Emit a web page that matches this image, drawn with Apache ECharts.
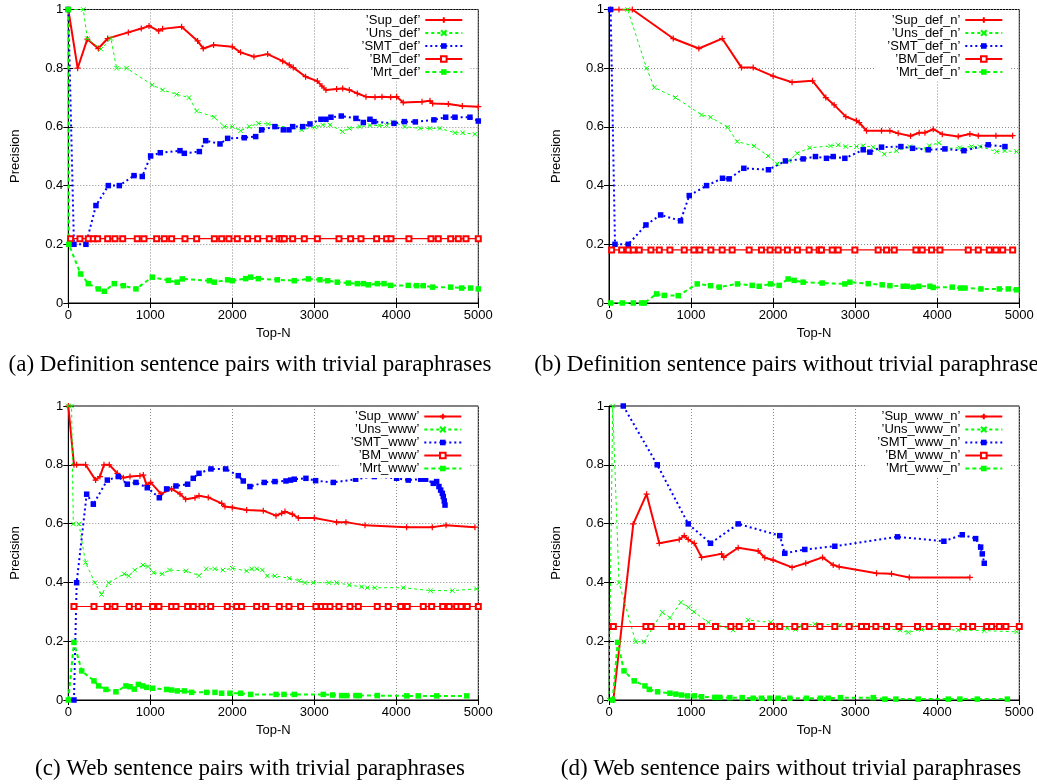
<!DOCTYPE html>
<html>
<head>
<meta charset="utf-8">
<script src="https://cdn.jsdelivr.net/npm/echarts@6/dist/echarts.min.js"></script>
<style>
html,body{margin:0;padding:0;background:#fff;}
#chart{width:1037px;height:784px;}
</style>
</head>
<body>
<div id="chart"></div>
<script>
// ---------- tick labels / captions ----------
const xTicks = [0, 1000, 2000, 3000, 4000, 5000];
const yTicks = [0, 0.2, 0.4, 0.6, 0.8, 1];
const xName = 'Top-N';
const yName = 'Precision';
const captions = [
  '(a) Definition sentence pairs with trivial paraphrases',
  '(b) Definition sentence pairs without trivial paraphrases',
  '(c) Web sentence pairs with trivial paraphrases',
  '(d) Web sentence pairs without trivial paraphrases'
];
const namesA = ['’Sup_def’', '’Uns_def’', '’SMT_def’', '’BM_def’', '’Mrt_def’'];
const namesB = ['’Sup_def_n’', '’Uns_def_n’', '’SMT_def_n’', '’BM_def_n’', '’Mrt_def_n’'];
const namesC = ['’Sup_www’', '’Uns_www’', '’SMT_www’', '’BM_www’', '’Mrt_www’'];
const namesD = ['’Sup_www_n’', '’Uns_www_n’', '’SMT_www_n’', '’BM_www_n’', '’Mrt_www_n’'];

// ---------- (a) definition, with trivial ----------
const supDef = [[0,1.0],[114,0.8],[232,0.899],[366,0.867],[480,0.901],[732,0.922],[890,0.935],[984,0.944],[1102,0.927],[1150,0.934],[1382,0.941],[1577,0.893],[1646,0.867],[1772,0.879],[2000,0.873],[2101,0.854],[2264,0.839],[2431,0.848],[2614,0.824],[2695,0.811],[2744,0.802],[2894,0.771],[3037,0.756],[3093,0.739],[3142,0.726],[3272,0.729],[3346,0.731],[3427,0.726],[3524,0.714],[3630,0.703],[3740,0.701],[3825,0.703],[3931,0.701],[4004,0.703],[4085,0.683],[4313,0.686],[4411,0.689],[4443,0.680],[4634,0.678],[4805,0.671],[5000,0.669]];
const unsDef = [[0,1.0],[183,1.0],[232,0.901],[398,0.865],[520,0.901],[589,0.8],[711,0.8],[1024,0.743],[1150,0.726],[1321,0.711],[1472,0.7],[1565,0.654],[1780,0.633],[1902,0.601],[2000,0.601],[2101,0.587],[2207,0.601],[2317,0.612],[2439,0.610],[2846,0.590],[3008,0.599],[3102,0.607],[3191,0.607],[3346,0.584],[3427,0.595],[3557,0.601],[3679,0.605],[3793,0.605],[3882,0.605],[3955,0.617],[4106,0.601],[4289,0.595],[4411,0.595],[4533,0.595],[4715,0.580],[4809,0.580],[4959,0.575]];
const smtDef = [[0,1.0],[69,0.2],[215,0.2],[337,0.332],[488,0.4],[622,0.4],[801,0.434],[902,0.431],[1004,0.501],[1122,0.512],[1362,0.519],[1415,0.510],[1598,0.516],[1675,0.553],[1850,0.542],[1943,0.561],[2146,0.563],[2285,0.567],[2358,0.590],[2520,0.601],[2622,0.590],[2691,0.590],[2736,0.601],[2858,0.601],[2947,0.610],[3081,0.626],[3142,0.626],[3203,0.633],[3329,0.637],[3508,0.629],[3598,0.615],[3679,0.626],[3728,0.618],[3972,0.612],[4098,0.618],[4232,0.617],[4459,0.624],[4602,0.633],[4715,0.633],[4898,0.633],[5000,0.620]];
const bmDefX = [28,142,244,305,358,480,569,663,841,923,1077,1171,1260,1423,1565,1781,1870,1959,2061,2187,2309,2451,2569,2602,2634,2736,2878,3037,3301,3443,3569,3760,3882,3935,4154,4423,4512,4663,4756,4850,5000];
const bmDefY = 0.219;
const mrtDef = [[0,1.0],[6,0.2],[150,0.099],[244,0.066],[366,0.048],[439,0.040],[561,0.066],[671,0.059],[825,0.048],[1024,0.088],[1220,0.077],[1329,0.071],[1390,0.082],[1720,0.076],[1780,0.071],[1943,0.079],[2000,0.076],[2163,0.083],[2224,0.088],[2317,0.083],[2549,0.079],[2756,0.076],[2927,0.082],[3069,0.079],[3163,0.076],[3280,0.071],[3415,0.068],[3524,0.066],[3598,0.066],[3659,0.062],[3769,0.066],[3850,0.066],[3931,0.060],[4146,0.060],[4248,0.059],[4329,0.059],[4443,0.054],[4663,0.054],[4797,0.051],[4906,0.051],[5000,0.048]];

// ---------- (b) definition, without trivial ----------
const supDefN = [[20,1.0],[122,1.0],[284,1.0],[783,0.901],[1095,0.867],[1379,0.901],[1615,0.802],[1757,0.802],[2000,0.773],[2231,0.752],[2480,0.757],[2642,0.700],[2744,0.675],[2886,0.635],[3016,0.621],[3049,0.615],[3138,0.587],[3321,0.587],[3423,0.587],[3524,0.578],[3675,0.569],[3780,0.580],[3850,0.580],[3951,0.592],[4061,0.575],[4256,0.567],[4398,0.576],[4500,0.570],[4715,0.570],[4919,0.570]];
const unsDefN = [[20,1.0],[227,1.0],[458,0.8],[552,0.734],[811,0.700],[1128,0.641],[1237,0.633],[1444,0.599],[1562,0.550],[1769,0.535],[1939,0.501],[2049,0.474],[2191,0.485],[2293,0.510],[2447,0.529],[2699,0.535],[2793,0.539],[2886,0.533],[3016,0.533],[3098,0.536],[3220,0.531],[3354,0.507],[3504,0.519],[3667,0.533],[3870,0.524],[3902,0.536],[4020,0.546],[4106,0.527],[4276,0.529],[4419,0.533],[4520,0.533],[4724,0.516],[4825,0.519],[4967,0.516]];
const smtDefN = [[20,1.0],[73,0.2],[235,0.2],[450,0.266],[629,0.300],[872,0.280],[978,0.366],[1189,0.400],[1383,0.425],[1464,0.423],[1643,0.459],[1943,0.454],[2150,0.484],[2366,0.491],[2516,0.499],[2650,0.493],[2732,0.499],[2874,0.493],[3098,0.522],[3179,0.514],[3321,0.531],[3557,0.533],[3699,0.527],[3890,0.522],[4093,0.525],[4325,0.519],[4622,0.539],[4825,0.533]];
const bmDefNX = [32,154,235,296,369,511,613,742,917,1034,1107,1241,1379,1501,1708,1858,1963,2061,2174,2296,2439,2561,2589,2720,2793,2996,3280,3382,3476,3740,3817,3931,4033,4378,4500,4634,4715,4797,4919];
const bmDefNY = 0.181;
const mrtDefN = [[20,0],[162,0],[296,0],[398,0],[430,0],[580,0.031],[673,0.026],[844,0.025],[1075,0.065],[1237,0.059],[1343,0.054],[1566,0.065],[1745,0.060],[1830,0.057],[1968,0.065],[2073,0.060],[2183,0.082],[2256,0.077],[2366,0.071],[2598,0.068],[2874,0.065],[2935,0.071],[3159,0.066],[3329,0.062],[3423,0.059],[3585,0.057],[3634,0.057],[3707,0.054],[3776,0.057],[3911,0.057],[3951,0.053],[4183,0.054],[4285,0.051],[4338,0.051],[4533,0.048],[4756,0.048],[4866,0.048],[4967,0.045]];

// ---------- (c) web, with trivial ----------
const supWww = [[0,1.0],[69,0.8],[102,0.8],[211,0.8],[333,0.748],[386,0.760],[435,0.8],[500,0.8],[598,0.771],[671,0.756],[752,0.760],[874,0.763],[915,0.765],[955,0.731],[1004,0.740],[1130,0.701],[1260,0.718],[1362,0.701],[1431,0.683],[1545,0.688],[1594,0.695],[1707,0.689],[1870,0.669],[1911,0.658],[2000,0.655],[2175,0.646],[2378,0.644],[2533,0.627],[2602,0.635],[2642,0.641],[2732,0.632],[2805,0.619],[3000,0.619],[3272,0.605],[3386,0.605],[3618,0.594],[4126,0.588],[4439,0.588],[4606,0.594],[4959,0.588]];
const unsWww = [[0,1.0],[40,1.0],[61,0.599],[130,0.599],[211,0.467],[324,0.399],[405,0.359],[494,0.399],[681,0.429],[737,0.422],[810,0.442],[911,0.459],[972,0.454],[1040,0.433],[1146,0.429],[1235,0.442],[1437,0.439],[1594,0.423],[1683,0.446],[1785,0.446],[1886,0.442],[2000,0.448],[2175,0.439],[2236,0.446],[2297,0.446],[2366,0.442],[2427,0.422],[2520,0.422],[2695,0.414],[2817,0.406],[2886,0.399],[2988,0.399],[3179,0.399],[3272,0.399],[3427,0.391],[3577,0.385],[3646,0.382],[3740,0.382],[4085,0.382],[4419,0.372],[4683,0.372],[4980,0.378]];
const smtWww = [[69,0],[102,0.399],[224,0.700],[305,0.666],[476,0.748],[610,0.760],[720,0.734],[825,0.740],[963,0.722],[1110,0.688],[1199,0.718],[1313,0.728],[1455,0.734],[1524,0.754],[1594,0.771],[1740,0.786],[1919,0.786],[2073,0.763],[2134,0.745],[2215,0.726],[2390,0.740],[2520,0.743],[2654,0.745],[2711,0.748],[2756,0.751],[2898,0.754],[3016,0.746],[3232,0.740],[3504,0.751],[3732,0.760],[4004,0.754],[4146,0.748],[4297,0.751],[4358,0.751],[4451,0.737],[4492,0.743],[4520,0.726],[4541,0.714],[4561,0.703],[4573,0.692],[4585,0.677],[4594,0.663]];
const bmWwwX = [69,313,476,569,744,854,1028,1105,1260,1313,1455,1524,1630,1736,1939,2053,2114,2297,2407,2573,2691,2833,3020,3089,3138,3191,3301,3435,3537,3768,3902,4053,4134,4329,4431,4565,4646,4736,4789,4866,5000];
const bmWwwY = 0.318;
const mrtWww = [[0,0],[69,0.196],[163,0.099],[313,0.065],[370,0.048],[459,0.036],[581,0.028],[703,0.048],[752,0.045],[805,0.037],[854,0.053],[907,0.048],[955,0.043],[1028,0.040],[1199,0.036],[1260,0.034],[1329,0.031],[1415,0.031],[1504,0.026],[1687,0.026],[1789,0.026],[1870,0.023],[1972,0.023],[2102,0.023],[2224,0.019],[2533,0.019],[2630,0.019],[2756,0.019],[3110,0.019],[3224,0.017],[3333,0.015],[3394,0.015],[3508,0.015],[3549,0.015],[3768,0.015],[4126,0.014],[4268,0.014],[4492,0.014],[4858,0.014]];

// ---------- (d) web, without trivial ----------
const supWwwN = [[53,0],[296,0.599],[458,0.700],[613,0.533],[856,0.546],[917,0.559],[966,0.546],[1039,0.533],[1128,0.485],[1371,0.497],[1399,0.485],[1574,0.518],[1818,0.507],[1899,0.484],[2000,0.476],[2231,0.451],[2398,0.465],[2602,0.485],[2732,0.459],[2805,0.453],[3260,0.431],[3443,0.429],[3659,0.417],[4398,0.417]];
const unsWwwN = [[0,0],[45,1.0],[122,0.399],[325,0.198],[426,0.198],[649,0.298],[742,0.280],[876,0.332],[966,0.315],[1035,0.300],[1209,0.264],[1331,0.255],[1513,0.238],[1696,0.272],[1972,0.264],[2171,0.244],[2272,0.240],[2345,0.252],[2508,0.258],[2813,0.255],[2955,0.255],[3545,0.238],[3646,0.230],[3809,0.240],[4256,0.238],[4573,0.236],[4967,0.232]];
const smtWwwN = [[174,1.0],[588,0.8],[966,0.599],[1237,0.533],[1574,0.599],[2081,0.559],[2142,0.499],[2386,0.512],[2752,0.523],[3516,0.555],[4081,0.540],[4305,0.562],[4468,0.549],[4529,0.520],[4549,0.497],[4573,0.465]];
const bmWwwNX = [53,450,511,763,884,1128,1298,1485,1586,1736,1980,2081,2264,2386,2569,2752,2927,3077,3138,3252,3382,3533,3760,3902,4053,4122,4317,4431,4602,4663,4756,4837,5000];
const bmWwwNY = 0.25;
const mrtWwwN = [[45,0],[105,0.196],[183,0.099],[308,0.065],[438,0.048],[491,0.036],[592,0.028],[742,0.023],[815,0.020],[884,0.017],[957,0.014],[1039,0.014],[1128,0.011],[1290,0.009],[1351,0.009],[1473,0.008],[1623,0.008],[1757,0.006],[1858,0.006],[1960,0.006],[2061,0.006],[2203,0.006],[2407,0.006],[2577,0.006],[2671,0.006],[2821,0.008],[3220,0.008],[3362,0.003],[3496,0.003],[3768,0.003],[4134,0.003],[4276,0.003],[4488,0.003],[4854,0.003]];

// ---------- build ----------
const FONT = '"Liberation Sans", Arial, Helvetica, sans-serif';
const SERIF = '"Liberation Serif", "Times New Roman", serif';
const RED = '#ff0000', GREEN = '#00ff00', BLUE = '#0000ff';

const grids = [
  {left: 68.3, top: 9.5, width: 410, height: 293.5},
  {left: 609, top: 9.5, width: 410.3, height: 293.5},
  {left: 68.3, top: 406, width: 410, height: 294},
  {left: 609, top: 406, width: 410.3, height: 294}
];
const legendPos = [
  {right: 566.7, top: 10.5},
  {right: 26.7, top: 10.5},
  {right: 567.7, top: 407},
  {right: 26.7, top: 407}
];
const captionPos = [
  {x: 250, y: 364.5},
  {x: 791, y: 364.5},
  {x: 250, y: 768.7},
  {x: 791, y: 768.7}
];

const plots = [
  {names: namesA, sup: supDef, uns: unsDef, smt: smtDef, bmX: bmDefX, bmY: bmDefY, mrt: mrtDef},
  {names: namesB, sup: supDefN, uns: unsDefN, smt: smtDefN, bmX: bmDefNX, bmY: bmDefNY, mrt: mrtDefN},
  {names: namesC, sup: supWww, uns: unsWww, smt: smtWww, bmX: bmWwwX, bmY: bmWwwY, mrt: mrtWww},
  {names: namesD, sup: supWwwN, uns: unsWwwN, smt: smtWwwN, bmX: bmWwwNX, bmY: bmWwwNY, mrt: mrtWwwN}
];

const styles = {
  sup: {color: RED, lineStyle: {color: RED, width: 2, type: 'solid'},
        symbol: 'path://M0,5L10,5M5,0L5,10', symbolSize: 6,
        itemStyle: {color: RED, borderColor: RED, borderWidth: 1.2}},
  uns: {color: GREEN, lineStyle: {color: GREEN, width: 1, type: [3, 3]},
        symbol: 'path://M0,0L10,10M10,0L0,10', symbolSize: 4.5,
        itemStyle: {color: GREEN, borderColor: GREEN, borderWidth: 1}},
  smt: {color: BLUE, lineStyle: {color: BLUE, width: 2, type: [2, 3]},
        symbol: 'rect', symbolSize: 5.5,
        itemStyle: {color: BLUE, borderWidth: 0}},
  bm:  {color: RED, lineStyle: {color: RED, width: 1.2, type: 'solid'},
        symbol: 'emptyRect', symbolSize: 5,
        itemStyle: {color: RED, borderColor: RED, borderWidth: 1}},
  mrt: {color: GREEN, lineStyle: {color: GREEN, width: 2, type: [4, 3]},
        symbol: 'rect', symbolSize: 5.5,
        itemStyle: {color: GREEN, borderWidth: 0}}
};

function mkSeries(name, data, kind, gi) {
  const s = styles[kind];
  return {
    type: 'line', name: name, data: data,
    xAxisIndex: gi, yAxisIndex: gi,
    color: s.color, lineStyle: s.lineStyle,
    symbol: s.symbol, symbolSize: s.symbolSize, itemStyle: s.itemStyle,
    showSymbol: true, showAllSymbol: true, clip: true,
    emphasis: {disabled: true}, silent: true, animation: false
  };
}

const series = [];
const xAxes = [], yAxes = [], legends = [], graphics = [];
plots.forEach((p, gi) => {
  const bm = p.bmX.map(x => [x, p.bmY]);
  series.push(mkSeries(p.names[0], p.sup, 'sup', gi));
  series.push(mkSeries(p.names[1], p.uns, 'uns', gi));
  series.push(mkSeries(p.names[2], p.smt, 'smt', gi));
  series.push(mkSeries(p.names[3], bm, 'bm', gi));
  series.push(mkSeries(p.names[4], p.mrt, 'mrt', gi));
  legends.push({
    data: p.names, orient: 'vertical', align: 'right',
    right: legendPos[gi].right, top: legendPos[gi].top,
    itemWidth: 37, itemHeight: 7, itemGap: 0,
    padding: [3, 7, 3, 12], backgroundColor: '#fff',
    selectedMode: false,
    textStyle: {fontFamily: FONT, fontSize: 13, color: '#000', lineHeight: 13}
  });
  graphics.push({
    type: 'text', x: captionPos[gi].x, y: captionPos[gi].y,
    style: {text: captions[gi], font: '23px ' + SERIF, fill: '#000',
            textAlign: 'center', textVerticalAlign: 'middle', align: 'center', verticalAlign: 'middle'},
    silent: true
  });
});

const xFmt = v => String(v);
const yFmt = v => String(Math.round(v * 10) / 10);
for (let gi = 0; gi < 4; gi++) {
  xAxes.push({
    type: 'value', gridIndex: gi, position: 'bottom', min: 0, max: 5000, interval: 1000,
    name: xName, nameLocation: 'middle', nameGap: 24,
    nameTextStyle: {fontFamily: FONT, fontSize: 13, color: '#000'},
    axisLine: {show: true, onZero: false, lineStyle: {color: '#000', width: 1}},
    axisTick: {show: true, inside: true, length: 5, lineStyle: {color: '#000'}},
    axisLabel: {show: true, margin: 6, fontFamily: FONT, fontSize: 13, color: '#000', formatter: xFmt},
    splitLine: {show: true, lineStyle: {color: '#8a8a8a', width: 1, type: [1, 2]}}
  });
}
for (let gi = 0; gi < 4; gi++) {
  xAxes.push({
    type: 'value', gridIndex: gi, position: 'top', min: 0, max: 5000, interval: 1000,
    axisLine: {show: false},
    axisTick: {show: true, inside: true, length: 5, lineStyle: {color: '#000'}},
    axisLabel: {show: false}, splitLine: {show: false}
  });
}
for (let gi = 0; gi < 4; gi++) {
  yAxes.push({
    type: 'value', gridIndex: gi, position: 'left', min: 0, max: 1, interval: 0.2,
    name: yName, nameLocation: 'middle', nameGap: 46, nameRotate: 90,
    nameTextStyle: {fontFamily: FONT, fontSize: 13, color: '#000'},
    axisLine: {show: true, onZero: false, lineStyle: {color: '#000', width: 1}},
    axisTick: {show: true, inside: true, length: 5, lineStyle: {color: '#000'}},
    axisLabel: {show: true, margin: 5, fontFamily: FONT, fontSize: 13, color: '#000', formatter: yFmt},
    splitLine: {show: true, lineStyle: {color: '#8a8a8a', width: 1, type: [1, 2]}}
  });
}
for (let gi = 0; gi < 4; gi++) {
  yAxes.push({
    type: 'value', gridIndex: gi, position: 'right', min: 0, max: 1, interval: 0.2,
    axisLine: {show: false},
    axisTick: {show: true, inside: true, length: 5, lineStyle: {color: '#000'}},
    axisLabel: {show: false}, splitLine: {show: false}
  });
}

const chart = echarts.init(document.getElementById('chart'), null, {renderer: 'canvas'});
chart.setOption({
  animation: false,
  backgroundColor: '#fff',
  grid: grids.map(g => Object.assign({show: true, borderColor: '#000', borderWidth: 1, backgroundColor: 'transparent', containLabel: false}, g)),
  xAxis: xAxes,
  yAxis: yAxes,
  legend: legends,
  series: series,
  graphic: graphics
});
</script>
</body>
</html>
